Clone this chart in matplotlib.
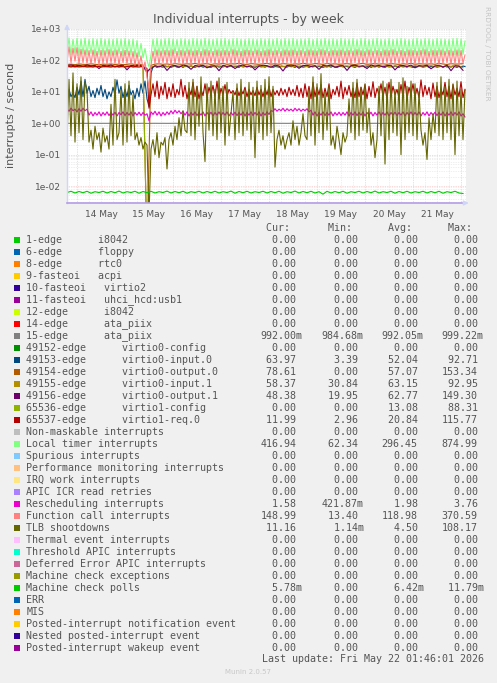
import numpy as np
import matplotlib.pyplot as plt
from matplotlib.patches import Rectangle

W, H = 497, 683

# time axis: hours relative to 14 May 00:00, hourly and 2-hourly samples
hours = np.arange(-5, 195)
hours2 = np.arange(-5, 195, 2)

day_labels = ['14 May', '15 May', '16 May', '17 May', '18 May', '19 May', '20 May', '21 May']

# --- hourly series ---
local_timer = [
    160, 520, 150, 470, 170, 500, 145, 480, 160, 510,
    150, 470, 165, 495, 140, 480, 155, 505, 150, 475,
    160, 490, 145, 470, 150, 500, 160, 485, 140, 495,
    155, 470, 150, 480, 135, 430, 130, 350, 120, 240,
    100, 62, 150, 480, 155, 500, 145, 470, 160, 490,
    150, 505, 140, 480, 165, 470, 150, 495, 145, 485,
    160, 470, 150, 500, 140, 490, 155, 475, 150, 505,
    145, 480, 160, 470, 150, 495, 140, 485, 155, 500,
    150, 470, 160, 490, 145, 505, 150, 480, 140, 470,
    155, 495, 150, 485, 160, 470, 145, 500, 150, 480,
    140, 490, 155, 475, 150, 505, 160, 470, 145, 495,
    150, 485, 140, 500, 155, 470, 150, 490, 160, 480,
    145, 505, 150, 470, 140, 495, 155, 480, 150, 500,
    160, 475, 145, 490, 150, 470, 140, 505, 155, 485,
    150, 480, 160, 495, 145, 470, 150, 500, 140, 490,
    155, 470, 150, 485, 160, 505, 145, 480, 150, 475,
    140, 495, 155, 470, 150, 490, 160, 500, 145, 485,
    150, 470, 140, 480, 155, 505, 150, 475, 160, 495,
    145, 490, 150, 470, 140, 500, 155, 485, 150, 480,
    160, 470, 145, 495, 150, 505, 140, 480, 155, 417,
]

func_call = [
    90, 270, 85, 245, 95, 255, 80, 225, 85, 215,
    80, 205, 75, 215, 85, 195, 72, 210, 80, 205,
    75, 220, 85, 200, 80, 215, 72, 195, 85, 210,
    80, 200, 75, 190, 70, 175, 65, 140, 50, 90,
    30, 13.4, 70, 195, 80, 215, 75, 200, 85, 210,
    78, 205, 72, 220, 80, 195, 85, 210, 75, 200,
    80, 215, 75, 200, 85, 210, 72, 195, 80, 220,
    75, 205, 85, 195, 78, 215, 70, 200, 82, 210,
    80, 200, 75, 220, 85, 205, 72, 195, 80, 215,
    76, 210, 82, 200, 75, 215, 85, 195, 78, 205,
    80, 220, 72, 200, 85, 210, 75, 195, 80, 215,
    85, 205, 78, 215, 72, 200, 80, 210, 75, 195,
    82, 215, 75, 205, 85, 200, 72, 220, 80, 210,
    78, 195, 85, 210, 75, 205, 80, 215, 72, 200,
    80, 210, 76, 200, 85, 220, 75, 205, 82, 195,
    75, 215, 80, 200, 72, 210, 85, 195, 78, 215,
    80, 205, 75, 220, 82, 200, 76, 210, 85, 195,
    72, 215, 80, 205, 75, 200, 85, 210, 78, 220,
    80, 195, 75, 210, 82, 205, 72, 215, 80, 200,
    85, 210, 76, 200, 80, 215, 75, 205, 82, 149,
]

resched = [
    2.9, 2.4, 3.0, 2.5, 2.8, 2.3, 2.9, 2.4, 3.0, 2.5,
    2.8, 1.8, 2.3, 1.7, 2.2, 1.8, 2.3, 1.7, 2.2, 1.8,
    2.3, 1.75, 2.2, 1.8, 2.25, 1.7, 2.2, 1.85, 2.3, 1.75,
    2.2, 1.8, 2.3, 1.7, 2.2, 1.8, 2.25, 1.75, 2.2, 1.8,
    2.0, 1.2, 2.3, 1.9, 2.4, 1.8, 2.3, 1.7, 2.2, 1.8,
    2.3, 1.9, 2.5, 2.0, 2.6, 2.1, 2.5, 2.0, 2.4, 1.8,
    2.3, 1.7, 2.2, 1.8, 2.3, 1.75, 2.2, 1.8, 2.3, 1.7,
    2.2, 1.8, 2.25, 1.7, 2.2, 1.8, 2.3, 1.75, 2.2, 1.8,
    2.3, 1.7, 2.2, 1.8, 2.25, 1.75, 2.2, 1.8, 2.3, 1.7,
    2.2, 1.8, 2.3, 1.75, 2.2, 1.8, 2.3, 1.7, 2.2, 1.8,
    2.3, 1.9, 2.5, 2.4, 2.9, 2.4, 2.8, 2.5, 3.0, 2.4,
    2.9, 2.5, 2.8, 2.4, 3.0, 2.5, 2.9, 2.4, 2.8, 2.5,
    2.9, 2.3, 2.6, 1.8, 2.3, 1.7, 2.2, 1.8, 2.3, 1.75,
    2.2, 1.8, 2.3, 1.7, 2.2, 1.8, 2.25, 1.75, 2.2, 1.8,
    2.3, 1.7, 2.2, 1.8, 2.3, 1.75, 2.2, 1.8, 2.3, 1.7,
    2.2, 1.8, 2.25, 1.7, 2.2, 1.8, 2.3, 1.75, 2.2, 1.8,
    2.3, 1.7, 2.2, 1.8, 2.25, 1.75, 2.2, 1.8, 2.3, 1.7,
    2.2, 1.8, 2.3, 1.75, 2.2, 1.8, 2.3, 1.7, 2.2, 1.8,
    2.3, 1.7, 2.2, 1.8, 2.25, 1.75, 2.2, 1.8, 2.3, 1.7,
    2.2, 1.8, 2.3, 1.75, 2.2, 1.8, 2.3, 1.7, 2.0, 1.58,
]

tlb = [
    0.3, 25, 0.4, 40, 0.25, 18, 0.5, 30, 0.3, 20,
    12, 0.25, 0.6, 0.15, 0.8, 0.3, 0.5, 0.12, 0.7, 0.25,
    0.4, 0.15, 4, 0.2, 25, 0.3, 0.5, 12, 0.2, 18,
    0.25, 22, 0.4, 8, 0.3, 0.5, 0.2, 0.35, 0.15, 0.25,
    0.2, 0.00114, 0.15, 0.3, 0.1, 0.5, 0.08, 0.25, 0.2, 0.35,
    0.035, 0.3, 0.5, 0.2, 0.8, 0.3, 1.5, 0.4, 2.5, 0.6,
    0.5, 20, 0.4, 25, 0.3, 15, 0.8, 30, 0.5, 0.06,
    18, 0.6, 22, 0.4, 12, 0.3, 28, 0.5, 15, 0.2,
    20, 0.4, 2, 10, 0.3, 18, 0.5, 25, 0.4, 12,
    0.6, 20, 0.3, 14, 0.08, 22, 0.5, 16, 0.3, 25,
    0.4, 30, 0.5, 15, 0.04, 0.3, 0.6, 0.2, 0.4, 0.15,
    0.3, 0.5, 0.2, 1.2, 0.3, 0.8, 0.2, 0.5, 2, 0.4,
    0.3, 12, 0.4, 30, 0.2, 18, 0.5, 38, 0.3, 10,
    0.6, 15, 0.2, 0.4, 0.15, 0.8, 0.3, 0.1, 0.5, 0.25,
    0.4, 6, 0.5, 20, 0.3, 25, 0.4, 14, 0.6, 18,
    0.5, 3, 0.2, 0.5, 0.08, 0.3, 15, 0.4, 22, 0.05,
    18, 0.3, 25, 0.5, 12, 0.4, 20, 0.1, 28, 0.3,
    15, 0.5, 22, 0.4, 18, 0.3, 10, 0.6, 0.2, 0.5,
    0.07, 1.5, 0.3, 2, 0.5, 20, 0.4, 30, 0.3, 15,
    0.5, 25, 0.3, 18, 0.1, 22, 0.4, 12, 0.3, 11.16,
]

virtio0_in0 = [
    6, 12, 7, 9, 6.5, 14, 8, 22, 7, 25,
    9, 15, 7, 11, 6.5, 13, 8, 16, 7, 12,
    6, 10, 7, 14, 8, 24, 9, 15, 6.5, 12,
    7, 16, 8, 11, 6, 13, 7, 18, 9, 22,
    6, 3.39, 40, 62, 65, 60, 66, 63, 61, 67,
    62, 66, 60, 64, 67, 61, 63, 65, 60, 66,
    64, 61, 67, 63, 60, 65, 62, 66, 61, 64,
    66, 62, 60, 65, 63, 67, 61, 64, 62, 66,
    60, 64, 66, 61, 65, 63, 60, 67, 62, 64,
    63, 66, 61, 64, 60, 65, 67, 62, 64, 61,
    65, 62, 66, 60, 64, 63, 61, 66, 65, 62,
    61, 67, 63, 64, 60, 66, 62, 65, 61, 63,
    66, 60, 64, 62, 67, 61, 65, 63, 60, 64,
    62, 65, 61, 66, 63, 60, 64, 67, 62, 65,
    64, 61, 66, 63, 60, 65, 62, 64, 66, 61,
    63, 67, 60, 64, 62, 66, 61, 65, 63, 60,
    65, 62, 64, 61, 67, 63, 60, 66, 62, 64,
    61, 66, 63, 60, 65, 62, 67, 64, 61, 63,
    66, 60, 65, 62, 64, 61, 63, 66, 60, 65,
    62, 64, 61, 67, 63, 60, 65, 62, 66, 63.97,
]

virtio1_req = [
    63, 64, 62, 65, 63, 64, 62, 63, 65, 64,
    62, 63, 64, 62, 65, 63, 64, 62, 63, 64,
    65, 63, 62, 64, 63, 65, 62, 64, 63, 62,
    64, 63, 65, 62, 64, 63, 62, 64, 63, 60,
    55, 3, 8, 18, 7, 22, 6, 15, 8, 20,
    6, 14, 7, 18, 6.5, 12, 8, 25, 7, 16,
    6, 13, 8, 20, 7, 15, 6, 12, 7.5, 18,
    6.5, 14, 8, 16, 7, 22, 6, 13, 8, 17,
    7, 12, 9, 11, 8, 13, 7.5, 12, 8.5, 14,
    7, 12, 8, 11, 7.5, 14, 8, 12, 7, 13,
    8, 15, 7, 12, 8, 11, 7.5, 13, 8, 12,
    7, 14, 8, 12, 7.5, 16, 7, 13, 6.5, 18,
    7, 15, 6, 20, 7, 14, 8, 17, 6.5, 13,
    7, 18, 6, 12, 8, 15, 7, 22, 6, 14,
    8, 16, 7, 13, 6.5, 19, 7, 14, 8, 17,
    6, 15, 7, 21, 6.5, 13, 8, 18, 7, 14,
    6, 20, 7, 15, 8, 12, 6.5, 17, 7, 22,
    6, 14, 8, 18, 7, 13, 6.5, 24, 7, 16,
    8, 14, 6, 19, 7, 15, 6.5, 12, 8, 20,
    7, 15, 6, 17, 8, 13, 7, 21, 6.5, 11.99,
]

# --- 2-hourly series ---
virtio0_out0 = [
    74, 76, 73, 77, 75, 74, 78, 75, 73, 76,
    75, 77, 74, 76, 73, 75, 78, 74, 76, 72,
    0, 70, 76, 78, 75, 77, 74, 79, 76, 75,
    78, 76, 80, 75, 77, 79, 74, 78, 76, 80,
    75, 78, 77, 81, 76, 74, 79, 77, 75, 78,
    80, 76, 78, 75, 79, 77, 74, 78, 76, 81,
    77, 75, 79, 78, 74, 80, 76, 78, 75, 77,
    79, 76, 74, 78, 80, 75, 77, 79, 76, 78,
    75, 79, 77, 74, 78, 76, 81, 75, 78, 77,
    76, 78, 75, 80, 77, 74, 79, 76, 77, 78.61,
]

virtio0_in1 = [
    66, 68, 65, 70, 67, 66, 69, 65, 68, 67,
    65, 69, 66, 68, 64, 67, 70, 66, 68, 63,
    40, 62, 66, 64, 67, 65, 63, 68, 66, 64,
    67, 65, 63, 66, 68, 64, 66, 63, 67, 65,
    64, 67, 65, 68, 63, 66, 64, 67, 65, 63,
    66, 64, 68, 65, 63, 67, 65, 64, 66, 68,
    63, 66, 65, 67, 64, 63, 68, 65, 66, 64,
    67, 64, 66, 63, 65, 68, 64, 66, 63, 67,
    65, 63, 67, 64, 66, 65, 63, 68, 65, 64,
    66, 68, 64, 65, 63, 67, 65, 64, 66, 58.37,
]

virtio0_out1 = [
    68, 72, 66, 70, 64, 71, 67, 69, 55, 70,
    66, 72, 62, 68, 70, 50, 69, 67, 71, 65,
    45, 55, 68, 62, 70, 48, 66, 69, 60, 71,
    67, 52, 69, 65, 70, 58, 66, 68, 47, 70,
    64, 69, 55, 67, 71, 62, 68, 50, 66, 70,
    68, 60, 71, 66, 46, 69, 67, 70, 56, 68,
    70, 64, 68, 52, 69, 67, 71, 60, 66, 69,
    48, 68, 70, 65, 67, 55, 71, 66, 69, 62,
    68, 70, 50, 67, 69, 64, 71, 58, 68, 66,
    70, 54, 67, 69, 62, 70, 47, 68, 66, 48.38,
]

virtio1_cfg = [
    62, 63, 61, 64, 62, 63, 61, 62, 64, 63,
    61, 62, 63, 61, 64, 62, 63, 61, 62, 63,
    0, 0, 0, 0, 0, 0, 0, 0, 0, 0,
    0, 0, 0, 0, 0, 0, 0, 0, 0, 0,
    0, 0, 0, 0, 0, 0, 0, 0, 0, 0,
    0, 0, 0, 0, 0, 0, 0, 0, 0, 0,
    0, 0, 0, 0, 0, 0, 0, 0, 0, 0,
    0, 0, 0, 0, 0, 0, 0, 0, 0, 0,
    0, 0, 0, 0, 0, 0, 0, 0, 0, 0,
    0, 0, 0, 0, 0, 0, 0, 0, 0, 0,
]

ata_piix15 = [
    0.992, 0.990, 0.995, 0.991, 0.993, 0.989, 0.994, 0.992, 0.990, 0.993,
    0.991, 0.995, 0.992, 0.990, 0.994, 0.991, 0.993, 0.992, 0.990, 0.995,
    0.985, 0.992, 0.994, 0.991, 0.993, 0.990, 0.992, 0.995, 0.991, 0.993,
    0.990, 0.994, 0.992, 0.991, 0.993, 0.990, 0.995, 0.992, 0.991, 0.994,
    0.992, 0.990, 0.993, 0.991, 0.995, 0.992, 0.990, 0.994, 0.991, 0.993,
    0.990, 0.992, 0.995, 0.991, 0.993, 0.990, 0.994, 0.992, 0.991, 0.993,
    0.992, 0.990, 0.994, 0.991, 0.993, 0.992, 0.990, 0.995, 0.991, 0.993,
    0.990, 0.994, 0.992, 0.991, 0.993, 0.990, 0.992, 0.995, 0.991, 0.993,
    0.992, 0.990, 0.993, 0.991, 0.994, 0.992, 0.990, 0.993, 0.991, 0.995,
    0.990, 0.992, 0.994, 0.991, 0.993, 0.990, 0.992, 0.994, 0.991, 0.992,
]

mce_polls = [
    0.0062, 0.0068, 0.0060, 0.0067, 0.0061, 0.0068, 0.0059, 0.0066, 0.0062, 0.0068,
    0.0060, 0.0067, 0.0061, 0.0069, 0.0060, 0.0066, 0.0062, 0.0068, 0.0059, 0.0067,
    0.0061, 0.0068, 0.0060, 0.0066, 0.0062, 0.0069, 0.0060, 0.0067, 0.0061, 0.0068,
    0.0059, 0.0066, 0.0062, 0.0068, 0.0060, 0.0067, 0.0061, 0.0068, 0.0060, 0.0066,
    0.0062, 0.0069, 0.0059, 0.0067, 0.0061, 0.0068, 0.0060, 0.0066, 0.0062, 0.0068,
    0.0060, 0.0067, 0.0061, 0.0068, 0.0059, 0.0066, 0.0062, 0.0069, 0.0060, 0.0067,
    0.0061, 0.0068, 0.0060, 0.0066, 0.0055, 0.0068, 0.0060, 0.0067, 0.0061, 0.0068,
    0.0059, 0.0066, 0.0062, 0.0068, 0.0060, 0.0067, 0.0061, 0.0069, 0.0060, 0.0066,
    0.0062, 0.0068, 0.0059, 0.0067, 0.0061, 0.0068, 0.0060, 0.0066, 0.0062, 0.0068,
    0.0060, 0.0067, 0.0061, 0.0068, 0.0059, 0.0066, 0.0062, 0.0068, 0.0060, 0.00578,
]

# --- legend table ---
labels = [
    "1-edge      i8042", "6-edge      floppy", "8-edge      rtc0",
    "9-fasteoi   acpi", "10-fasteoi   virtio2", "11-fasteoi   uhci_hcd:usb1",
    "12-edge      i8042", "14-edge      ata_piix", "15-edge      ata_piix",
    "49152-edge      virtio0-config", "49153-edge      virtio0-input.0",
    "49154-edge      virtio0-output.0", "49155-edge      virtio0-input.1",
    "49156-edge      virtio0-output.1", "65536-edge      virtio1-config",
    "65537-edge      virtio1-req.0", "Non-maskable interrupts",
    "Local timer interrupts", "Spurious interrupts",
    "Performance monitoring interrupts", "IRQ work interrupts",
    "APIC ICR read retries", "Rescheduling interrupts",
    "Function call interrupts", "TLB shootdowns", "Thermal event interrupts",
    "Threshold APIC interrupts", "Deferred Error APIC interrupts",
    "Machine check exceptions", "Machine check polls", "ERR", "MIS",
    "Posted-interrupt notification event", "Nested posted-interrupt event",
    "Posted-interrupt wakeup event",
]
colors = [
    "#00CC00", "#0066B3", "#FF8000", "#FFCC00", "#330099", "#990099", "#CCFF00",
    "#FF0000", "#808080", "#008F00", "#00487D", "#B35A00", "#B38F00", "#6B006B",
    "#8FB300", "#B30000", "#BEBEBE", "#80FF80", "#80C9FF", "#FFC080", "#FFE680",
    "#AA80FF", "#EE00CC", "#FF8080", "#666600", "#FFBFFF", "#00FFCC", "#CC6699",
    "#999900", "#00CC00", "#0066B3", "#FF8000", "#FFCC00", "#330099", "#990099",
]
z = "0.00"
cur_vals = [z, z, z, z, z, z, z, z, "992.00m", z, "63.97", "78.61", "58.37", "48.38",
            z, "11.99", z, "416.94", z, z, z, z, "1.58", "148.99", "11.16", z, z, z,
            z, "5.78m", z, z, z, z, z]
min_vals = [z, z, z, z, z, z, z, z, "984.68m", z, "3.39", z, "30.84", "19.95",
            z, "2.96", z, "62.34", z, z, z, z, "421.87m", "13.40", "1.14m", z, z, z,
            z, z, z, z, z, z, z]
avg_vals = [z, z, z, z, z, z, z, z, "992.05m", z, "52.04", "57.07", "63.15", "62.77",
            "13.08", "20.84", z, "296.45", z, z, z, z, "1.98", "118.98", "4.50", z, z, z,
            z, "6.42m", z, z, z, z, z]
max_vals = [z, z, z, z, z, z, z, z, "999.22m", z, "92.71", "153.34", "92.95", "149.30",
            "88.31", "115.77", z, "874.99", z, z, z, z, "3.76", "370.59", "108.17", z, z, z,
            z, "11.79m", z, z, z, z, z]

fig = plt.figure(figsize=(W / 100, H / 100), dpi=100, facecolor='#f0f0f0')

def fx(px):
    return px / W

def fy(py):
    return 1 - py / H

ax = fig.add_axes([fx(67), fy(203), fx(466) - fx(67), fy(29) - fy(203)])
ax.set_facecolor('white')
ax.set_yscale('log')
ymin = 0.00288
ax.set_ylim(ymin, 1000)
ax.set_xlim(-5, 194.5)

# grid (rrdtool style)
for h in range(0, 195, 6):
    major = h % 24 == 0
    ax.axvline(h, color='#f4b4b4' if major else '#e0e0e0', lw=0.5,
               ls=(0, (1, 1.5)), zorder=0)
for k in range(-3, 3):
    for m in range(2, 10):
        v = m * 10.0 ** k
        if ymin < v < 1000:
            ax.axhline(v, color='#e0e0e0', lw=0.5, ls=(0, (1, 1.5)), zorder=0)
for k in range(-2, 4):
    ax.axhline(10.0 ** k, color='#f4b4b4', lw=0.5, ls=(0, (1, 1.5)), zorder=0)

series = [
    (hours2, ata_piix15, "#808080"),
    (hours, virtio0_in0, "#00487D"),
    (hours2, virtio0_out0, "#B35A00"),
    (hours2, virtio0_in1, "#B38F00"),
    (hours2, virtio0_out1, "#6B006B"),
    (hours2, virtio1_cfg, "#8FB300"),
    (hours, virtio1_req, "#B30000"),
    (hours, local_timer, "#80FF80"),
    (hours, resched, "#EE00CC"),
    (hours, func_call, "#FF8080"),
    (hours, tlb, "#666600"),
    (hours2, mce_polls, "#00CC00"),
]
for t, vals, c in series:
    v = np.asarray(vals, dtype=float)
    # rrdtool pushes zeros to the bottom of a log graph
    v = np.where(v > 0, v, 1e-4)
    ax.plot(t, v, color=c, lw=0.8, zorder=2)

ax.set_yticks([1e-2, 1e-1, 1e0, 1e1, 1e2, 1e3])
ax.set_yticklabels(['1e-02', '1e-01', '1e+00', '1e+01', '1e+02', '1e+03'])
ax.yaxis.set_minor_locator(plt.NullLocator())
ax.set_xticks(np.arange(12, 194, 24))
ax.set_xticklabels(day_labels)
ax.tick_params(length=0, labelsize=6.5, colors='#555555')
ax.tick_params(axis='y', pad=4)
ax.tick_params(axis='x', pad=5)

for s in ['top', 'right']:
    ax.spines[s].set_visible(False)
ax.spines['left'].set_color('#cfd6f8')
ax.spines['bottom'].set_color('#b49ce6')
ax.spines['left'].set_linewidth(1.0)
ax.spines['bottom'].set_linewidth(1.2)
ax.annotate('', xy=(0, 1.045), xytext=(0, 0.99), xycoords='axes fraction',
            arrowprops=dict(arrowstyle='-|>', color='#cfd6f8', lw=1, mutation_scale=7))
ax.annotate('', xy=(1.014, 0), xytext=(0.99, 0), xycoords='axes fraction',
            arrowprops=dict(arrowstyle='-|>', color='#cfd6f8', lw=1, mutation_scale=7))

fig.text(fx(248.5), fy(19), 'Individual interrupts - by week', ha='center', va='center',
         fontsize=9, color='#555555')
fig.text(fx(11), fy(115), 'interrupts / second', rotation=90, ha='center', va='center',
         fontsize=8, color='#555555')
fig.text(fx(487), fy(53), 'RRDTOOL / TOBI OETIKER', rotation=270, ha='center', va='center',
         fontsize=5.3, color='#c4c4c4')

mono = dict(family='DejaVu Sans Mono', fontsize=7.2, color='#555555', va='center')
col_x = [260.5, 321.5, 381.7, 441.7]
for x, head in zip(col_x, ['Cur:', 'Min:', 'Avg:', 'Max:']):
    fig.text(fx(x), fy(227.7), ' ' + head, **mono)

def fmt(s):
    if s.endswith('m'):
        return s[:-1].rjust(6) + 'm'
    return s.rjust(6)

for i, lab in enumerate(labels):
    y = 239.7 + 12 * i
    fig.add_artist(Rectangle((fx(14), fy(y + 3)), 6 / W, 6 / H, transform=fig.transFigure,
                             facecolor=colors[i], edgecolor='none'))
    fig.text(fx(26.3), fy(y), lab, **mono)
    for x, col in zip(col_x, [cur_vals, min_vals, avg_vals, max_vals]):
        fig.text(fx(x), fy(y), fmt(col[i]), **mono)

fig.text(fx(261.7), fy(659.5), 'Last update: Fri May 22 01:46:01 2026', **mono)
fig.text(fx(248), fy(672), 'Munin 2.0.57', ha='center', va='center', fontsize=5,
         color='#c8c8c8')

fig.savefig('out.png', dpi=100, facecolor=fig.get_facecolor())
